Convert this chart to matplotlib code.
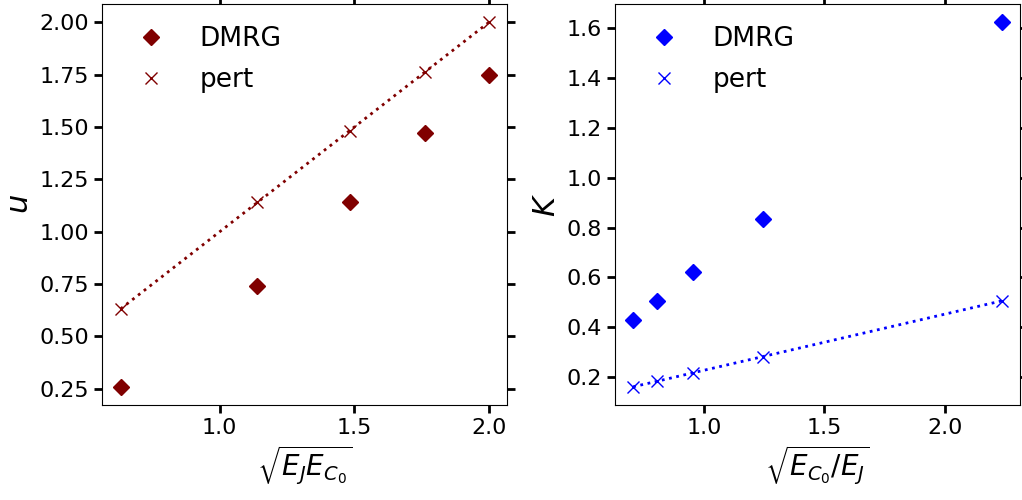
import matplotlib
matplotlib.use("Agg")
import matplotlib.pyplot as plt

# Left panel: sqrt(E_J E_C0)
x_left = [0.632, 1.140, 1.483, 1.761, 2.000]
u_dmrg = [0.26, 0.74, 1.14, 1.47, 1.75]
u_pert = [0.632, 1.140, 1.483, 1.761, 2.000]

# Right panel: sqrt(E_C0 / E_J)
x_right = [0.707, 0.806, 0.955, 1.244, 2.236]
K_dmrg = [0.43, 0.505, 0.62, 0.835, 1.625]
K_pert = [0.160, 0.182, 0.216, 0.281, 0.505]

fig, (ax1, ax2) = plt.subplots(1, 2, figsize=(10.22, 5.0), dpi=100)

def style(ax):
    ax.tick_params(axis='both', which='major', direction='out', length=6, width=2,
                   labelsize=16, top=True, right=True)

leg_kw = dict(loc='upper left', frameon=False, fontsize=19, handletextpad=0.85,
              borderaxespad=0.4, labelspacing=0.55, borderpad=0.45)

ax1.plot(x_left, u_dmrg, 'D', color='#800000', markersize=8, label='DMRG', linestyle='none')
ax1.plot(x_left, u_pert, 'x', color='#800000', markersize=9, label='pert', linestyle='none')
ax1.plot(x_left, u_pert, ':', color='#800000', linewidth=2)
ax1.set_xlabel(r'$\sqrt{E_J E_{C_0}}$', fontsize=20)
ax1.set_ylabel(r'$u$', fontsize=22)
ax1.set_yticks([0.25, 0.5, 0.75, 1.0, 1.25, 1.5, 1.75, 2.0])
ax1.set_xticks([1.0, 1.5, 2.0])
style(ax1)
ax1.legend(**leg_kw)

ax2.plot(x_right, K_dmrg, 'D', color='#0000ff', markersize=8, label='DMRG', linestyle='none')
ax2.plot(x_right, K_pert, 'x', color='#0000ff', markersize=9, label='pert', linestyle='none')
ax2.plot(x_right, K_pert, ':', color='#0000ff', linewidth=2)
ax2.set_xlabel(r'$\sqrt{E_{C_0}/E_J}$', fontsize=20)
ax2.set_ylabel(r'$K$', fontsize=22)
ax2.set_yticks([0.2, 0.4, 0.6, 0.8, 1.0, 1.2, 1.4, 1.6])
ax2.set_xticks([1.0, 1.5, 2.0])
style(ax2)
ax2.legend(**leg_kw)

fig.subplots_adjust(left=0.1, right=0.998, top=0.992, bottom=0.19, wspace=0.265)
fig.savefig('out.png', dpi=100)
